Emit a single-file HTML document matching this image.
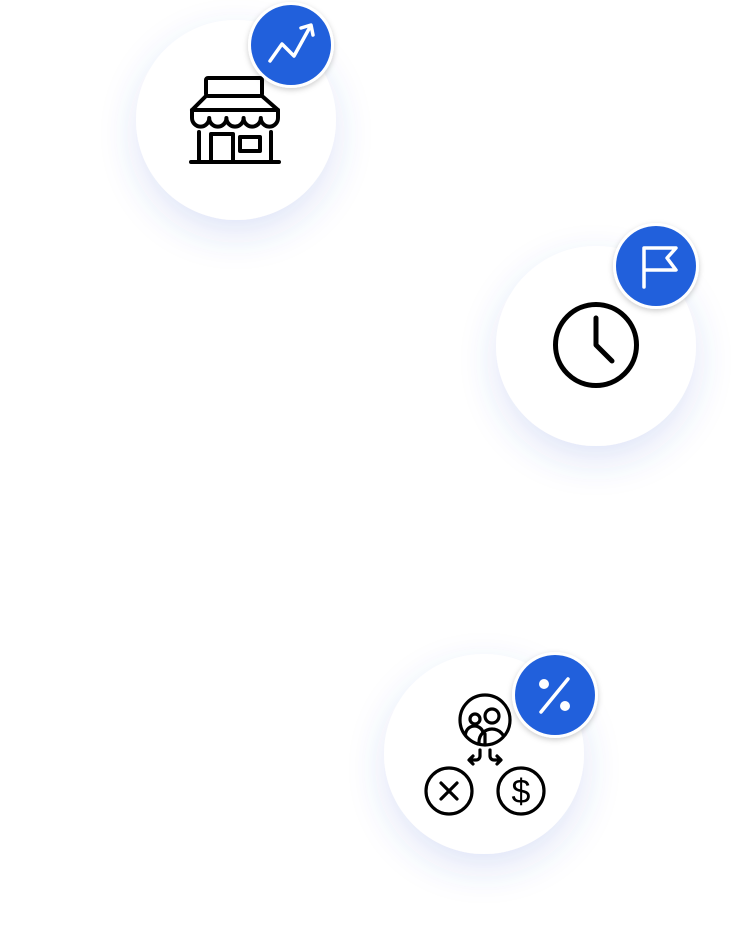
<!DOCTYPE html>
<html><head><meta charset="utf-8"><style>html,body{margin:0;padding:0;background:#fff;width:744px;height:930px;overflow:hidden}</style></head>
<body>
<svg width="744" height="930" viewBox="0 0 744 930" xmlns="http://www.w3.org/2000/svg">
<defs>
<filter id="sh" x="-60%" y="-60%" width="220%" height="220%">
<feGaussianBlur in="SourceAlpha" stdDeviation="18"/>
<feOffset dy="14" result="b"/>
<feFlood flood-color="#3a5bd0" flood-opacity="0.16"/>
<feComposite in2="b" operator="in"/>
<feMerge><feMergeNode/><feMergeNode in="SourceGraphic"/></feMerge>
</filter>
<filter id="bs" x="-40%" y="-40%" width="180%" height="180%">
<feGaussianBlur in="SourceAlpha" stdDeviation="3"/>
<feOffset dy="2" result="b"/>
<feFlood flood-color="#000" flood-opacity="0.2"/>
<feComposite in2="b" operator="in"/>
<feMerge><feMergeNode/><feMergeNode in="SourceGraphic"/></feMerge>
</filter>
<clipPath id="pc"><circle cx="485" cy="720" r="24"/></clipPath>
</defs>
<circle cx="236" cy="120" r="100" fill="#fff" filter="url(#sh)"/>
<circle cx="596" cy="346" r="100" fill="#fff" filter="url(#sh)"/>
<circle cx="484" cy="754" r="100" fill="#fff" filter="url(#sh)"/>

<!-- store icon -->
<g fill="none" stroke="#000" stroke-width="4" stroke-linejoin="round" stroke-linecap="round">
<rect x="206" y="78" width="56" height="18" rx="2"/>
<path d="M206 96 L192 110 L278 110 L262 96"/>
<path d="M192 110 v8 a8.6 8.6 0 0 0 17.2 0 a8.6 8.6 0 0 0 17.2 0 a8.6 8.6 0 0 0 17.2 0 a8.6 8.6 0 0 0 17.2 0 a8.6 8.6 0 0 0 17.2 0 v-8"/>
<path d="M199 132 v30 M271 132 v30 M191 162 h88"/>
<path d="M211 162 v-28 h22 v28"/>
<rect x="240" y="137" width="20" height="14"/>
</g>

<!-- clock -->
<g fill="none" stroke="#000" stroke-width="5" stroke-linecap="round" stroke-linejoin="round">
<circle cx="596" cy="345" r="40.5"/>
<path d="M596 318 V345 L612 361"/>
</g>

<!-- people split icon -->
<g fill="none" stroke="#000" stroke-width="3.2" stroke-linecap="round" stroke-linejoin="round">
<circle cx="485" cy="720" r="25"/>
<g clip-path="url(#pc)">
<circle cx="475" cy="719" r="5"/>
<circle cx="492" cy="716" r="7"/>
<path d="M466 746 v-8 a9 9 0 0 1 17 -6"/>
<path d="M479 748 v-6 a13 13 0 0 1 26 0 v6"/>
<path d="M485 734 v14"/>
</g>
<path d="M480 750 v6 a4 4 0 0 1 -4 4 h-6 M473 756 l-4 4 l4 4"/>
<path d="M490 750 v6 a4 4 0 0 0 4 4 h6 M497 756 l4 4 l-4 4"/>
<circle cx="449" cy="791" r="23"/>
<path d="M441 783 l16 16 M457 783 l-16 16"/>
<circle cx="521" cy="791" r="23"/>
</g>
<text x="521" y="803" text-anchor="middle" font-family="Liberation Sans, sans-serif" font-size="34" fill="#000">$</text>

<!-- badges -->
<g filter="url(#bs)">
<circle cx="291" cy="45" r="43" fill="#fff"/>
<circle cx="656" cy="266" r="43" fill="#fff"/>
<circle cx="555" cy="695" r="43" fill="#fff"/>
</g>
<circle cx="291" cy="45" r="40" fill="#2160dc"/>
<circle cx="656" cy="266" r="40" fill="#2160dc"/>
<circle cx="555" cy="695" r="40" fill="#2160dc"/>

<g fill="none" stroke="#fff" stroke-width="3.5" stroke-linecap="round" stroke-linejoin="round">
<path d="M270 61 L282 44 L294 56 L310 27"/>
<path d="M301 28 L311 25 L313 35"/>
<path d="M644 287 V248 H676 L667 258 L676 270 H644"/>
<path d="M541 712 L568 679"/>
</g>
<circle cx="544" cy="684" r="5" fill="#fff"/>
<circle cx="565" cy="706" r="5" fill="#fff"/>
</svg>
</body></html>
